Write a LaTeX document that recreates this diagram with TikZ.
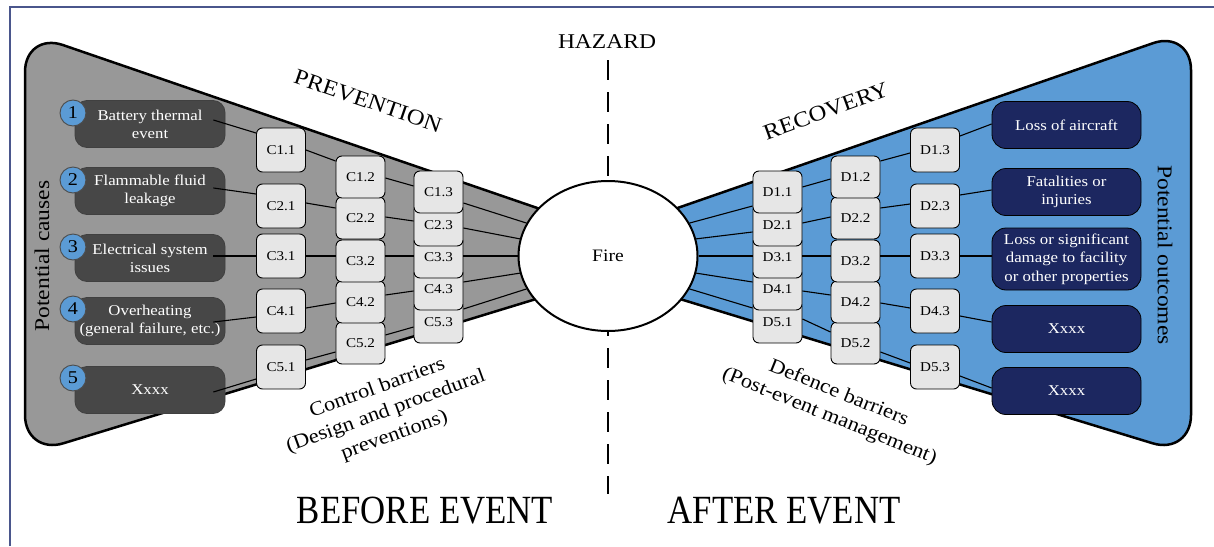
\documentclass[tikz,border=0pt]{standalone}
\usepackage{fontspec}
\setmainfont{Liberation Serif}[FakeStretch=1.12]
\newfontfamily\condfont{Liberation Serif}
\usepackage{graphicx}
\usetikzlibrary{shapes.geometric,calc}
\definecolor{shapegray}{HTML}{989898}
\definecolor{shapeblue}{HTML}{5B9BD5}
\definecolor{causefill}{HTML}{474747}
\definecolor{cfill}{HTML}{E6E6E6}
\definecolor{navy}{HTML}{1C2760}
\definecolor{circblue}{HTML}{5B9BD5}
\definecolor{framecol}{HTML}{4A568C}
\newcommand{\fsz}[2]{\fontsize{#1}{#2}\selectfont}
\begin{document}
\begin{tikzpicture}[x=1pt,y=-1pt,
  cbox/.style={draw=black, line width=0.9pt, fill=cfill, rounded corners=6pt, minimum width=49pt, minimum height=42pt, inner sep=0pt, font=\fsz{13.5}{15}},
  causebox/.style={draw=black!75, line width=0.8pt, fill=causefill, rounded corners=12pt, minimum width=150pt, minimum height=47pt, inner sep=1pt, text=white, align=center, font=\fsz{15}{18}},
  outbox/.style={draw=black, line width=0.8pt, fill=navy, rounded corners=14pt, minimum width=149pt, minimum height=47pt, inner sep=1pt, text=white, align=center, font=\fsz{15}{18.5}},
  numcirc/.style={circle, draw=black!70, line width=0.9pt, fill=circblue, minimum size=26pt, inner sep=0pt, font=\fsz{18}{18}},
  link/.style={line width=1.1pt, draw=black},
  wing/.style={draw=black, line width=2.5pt, rounded corners=40pt},
  title/.style={font=\fsz{21}{21}},
  annot/.style={font=\fsz{20}{25}, align=center}
]
\useasboundingbox (0,0) rectangle (1214,546);
% frame
\coordinate (fa) at (10,546);
\coordinate (fb) at (10,6.5);
\coordinate (fc) at (1214,6.5);
\draw[framecol, line width=2pt] (fa) -- (fb) -- (fc);

% wings
\path[wing, fill=shapegray] (25,250) -- (25,32) -- (677,256) -- (25,455) -- cycle;
\path[wing, fill=shapeblue] (1191,250) -- (1191,30) -- (539,256) -- (1191,455) -- cycle;

% hazard line
\coordinate (hz1) at (608,60);
\coordinate (hz2) at (608,494);
\draw[line width=1.6pt, dash pattern=on 20pt off 12pt] (hz1) -- (hz2);

% fire
\node[ellipse, draw=black, line width=2pt, fill=white, minimum width=179pt, minimum height=150pt, inner sep=0pt, font=\fsz{17.5}{17.5}] (fire) at (608,256) {Fire};

% causes
\node[causebox] (k1) at (150,124) {Battery thermal\\event};
\node[causebox] (k2) at (150,191) {Flammable fluid\\leakage};
\node[causebox] (k3) at (150,258) {Electrical system\\issues};
\node[causebox] (k4) at (150,321) {Overheating\\(general failure, etc.)};
\node[causebox] (k5) at (150,390) {Xxxx};
\node[numcirc] (n1) at (73,113) {1};
\node[numcirc] (n2) at (73,180) {2};
\node[numcirc] (n3) at (73,247) {3};
\node[numcirc] (n4) at (73,309) {4};
\node[numcirc] (n5) at (73,378) {5};

% outcomes
\node[outbox] (o1) at (1066.5,125) {Loss of aircraft};
\node[outbox] (o2) at (1066.5,192) {Fatalities or\\injuries};
\node[outbox, minimum height=62pt] (o3) at (1066.5,259) {Loss or significant\\damage to facility\\or other properties};
\node[outbox] (o4) at (1066.5,329) {Xxxx};
\node[outbox] (o5) at (1066.5,391) {Xxxx};

% C column 1
\node[cbox, minimum height=44pt] (C11) at (281,150) {C1.1};
\node[cbox, minimum height=44pt] (C21) at (281,206) {C2.1};
\node[cbox, minimum height=44pt] (C31) at (281,256) {C3.1};
\node[cbox, minimum height=44pt] (C41) at (281,311) {C4.1};
\node[cbox, minimum height=44pt] (C51) at (281,367) {C5.1};
% C column 2
\node[cbox] (C52) at (360.5,343) {C5.2};
\node[cbox] (C42) at (360.5,302) {C4.2};
\node[cbox] (C32) at (360.5,261) {C3.2};
\node[cbox] (C22) at (360.5,218) {C2.2};
\node[cbox] (C12) at (360.5,177) {C1.2};
% C column 3
\node[cbox] (C53) at (438.5,322) {C5.3};
\node[cbox] (C43) at (438.5,289) {C4.3};
\node[cbox] (C33) at (438.5,257) {C3.3};
\node[cbox] (C23) at (438.5,225) {C2.3};
\node[cbox] (C13) at (438.5,192) {C1.3};
% D column 1
\node[cbox] (D51) at (777.5,322) {D5.1};
\node[cbox] (D41) at (777.5,289) {D4.1};
\node[cbox] (D31) at (777.5,257) {D3.1};
\node[cbox] (D21) at (777.5,225) {D2.1};
\node[cbox] (D11) at (777.5,192) {D1.1};
% D column 2
\node[cbox] (D52) at (855.5,343) {D5.2};
\node[cbox] (D42) at (855.5,302) {D4.2};
\node[cbox] (D32) at (855.5,261) {D3.2};
\node[cbox] (D22) at (855.5,218) {D2.2};
\node[cbox] (D12) at (855.5,177) {D1.2};
% D column 3
\node[cbox, minimum height=44pt] (D13) at (935,150) {D1.3};
\node[cbox, minimum height=44pt] (D23) at (935,206) {D2.3};
\node[cbox, minimum height=44pt] (D33) at (935,256) {D3.3};
\node[cbox, minimum height=44pt] (D43) at (935,311) {D4.3};
\node[cbox, minimum height=44pt] (D53) at (935,367) {D5.3};

% links left
\draw[link] ($(k1.east)+(-12,-4)$) -- ($(C11.west)+(0,-17)$);
\draw[link] ($(k2.east)+(-12,-3)$) -- ($(C21.west)+(0,-12)$);
\draw[link] ($(k3.east |- fire)+(-12,0)$) -- (C31.west |- fire);
\draw[link] ($(k4.east)+(-12,1)$) -- ($(C41.west)+(0,6)$);
\draw[link] ($(k5.east)+(-12,2)$) -- ($(C51.west)+(0,12)$);

\draw[link] (C11.east) -- ($(C12.west)+(0,-16)$);
\draw[link] ($(C21.east)+(0,-3)$) -- ($(C22.west)+(0,-10)$);
\draw[link] (C31.east |- fire) -- (C32.west |- fire);
\draw[link] ($(C41.east)+(0,-3)$) -- ($(C42.west)+(0,1)$);
\draw[link] ($(C51.east)+(0,-7)$) -- ($(C52.west)+(0,9)$);

\draw[link] ($(C12.east)+(0,1)$) -- ($(C13.west)+(0,-6)$);
\draw[link] ($(C22.east)+(0,-1)$) -- ($(C23.west)+(0,-4)$);
\draw[link] (C32.east |- fire) -- (C33.west |- fire);
\draw[link] ($(C42.east)+(0,-7)$) -- ($(C43.west)+(0,2)$);
\draw[link] ($(C52.east)+(0,-8)$) -- ($(C53.west)+(0,5)$);

\draw[link] ($(C13.east)+(0,11)$) -- (fire.158);
\draw[link] ($(C23.east)+(0,3)$) -- (fire.169);
\draw[link] (C33.east |- fire) -- (fire.180);
\draw[link] ($(C43.east)+(0,-7)$) -- (fire.191);
\draw[link] ($(C53.east)+(0,-13)$) -- (fire.202);

% links right
\draw[link] (fire.22) -- ($(D11.west)+(0,14)$);
\draw[link] (fire.11) -- ($(D21.west)+(0,7)$);
\draw[link] (fire.0) -- (D31.west |- fire);
\draw[link] (fire.-11) -- ($(D41.west)+(0,-7)$);
\draw[link] (fire.-22) -- ($(D51.west)+(0,-14)$);

\draw[link] ($(D11.east)+(0,-5)$) -- ($(D12.west)+(0,2)$);
\draw[link] ($(D21.east)+(0,-2)$) -- ($(D22.west)+(0,-1)$);
\draw[link] (D31.east |- fire) -- (D32.west |- fire);
\draw[link] ($(D41.east)+(0,2)$) -- ($(D42.west)+(0,-7)$);
\draw[link] ($(D51.east)+(0,-3)$) -- ($(D52.west)+(0,-11)$);

\draw[link] ($(D12.east)+(0,-16)$) -- ($(D13.west)+(0,3)$);
\draw[link] ($(D22.east)+(0,-10)$) -- ($(D23.west)+(0,-2)$);
\draw[link] (D32.east |- fire) -- (D33.west |- fire);
\draw[link] ($(D42.east)+(0,1)$) -- ($(D43.west)+(0,-3)$);
\draw[link] ($(D52.east)+(0,9)$) -- ($(D53.west)+(0,-4)$);

\draw[link] ($(D13.east)+(0,-14)$) -- ($(o1.west)+(0,-1)$);
\draw[link] ($(D23.east)+(0,-11)$) -- ($(o2.west)+(0,-2)$);
\draw[link] (D33.east |- fire) -- (o3.west |- fire);
\draw[link] ($(D43.east)+(0,5)$) -- ($(o4.west)+(0,-7)$);
\draw[link] ($(D53.east)+(0,9)$) -- ($(o5.west)+(0,-3)$);

% labels
\node[font=\fsz{21}{21}] (hazard) at (607,42) {HAZARD};
\node[font=\fsz{22}{22}, rotate=-19] (prev) at (368,101) {PREVENTION};
\node[font=\fsz{22}{22}, rotate=20] (recov) at (826,111) {RECOVERY};
\node[title, rotate=90] (pcause) at (42,256) {Potential causes};
\node[title, rotate=-90] (pout) at (1165,255) {Potential outcomes};
\node[annot, rotate=20] (ctrl) at (386,412) {Control barriers\\(Design and procedural\\preventions)};
\node[annot, rotate=-22] (defn) at (834,405) {Defence barriers\\(Post-event management)};
\node[font=\condfont\fsz{40}{40}] (before) at (425,511) {\scalebox{0.87}[1]{BEFORE EVENT}};
\node[font=\condfont\fsz{40}{40}] (after) at (784,511) {\scalebox{0.87}[1]{AFTER EVENT}};
\end{tikzpicture}
\end{document}
